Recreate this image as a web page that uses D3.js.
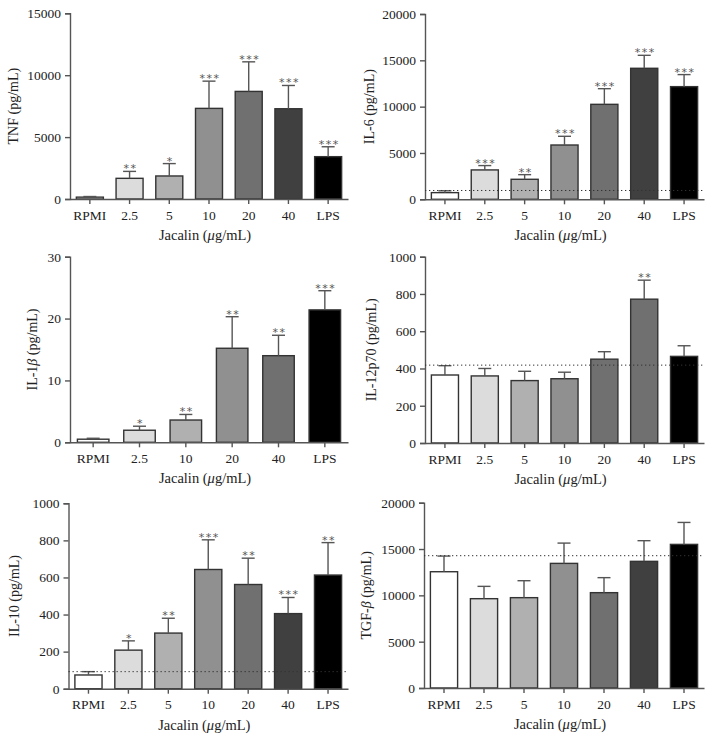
<!DOCTYPE html>
<html><head><meta charset="utf-8">
<script src="https://cdn.jsdelivr.net/npm/d3@7"></script>
<style>body{margin:0;background:#fff}svg{display:block}</style>
</head><body>
<svg id="c" width="714" height="739"></svg>
<script>
// ---- data ----
const catsA = ["RPMI","2.5","5","10","20","40","LPS"];
const catsB = ["RPMI","2.5","10","20","40","LPS"];

const tnfVals = [150, 1670, 1860, 7320, 8690, 7290, 3420];
const tnfErr  = [50, 560, 1000, 2200, 2390, 1880, 800];
const tnfSig  = ["", "**", "*", "***", "***", "***", "***"];
const tnfTicks = [0, 5000, 10000, 15000];

const il6Vals = [720, 3170, 2160, 5860, 10250, 14140, 12160];
const il6Err  = [200, 470, 500, 940, 1690, 1400, 1300];
const il6Sig  = ["", "***", "**", "***", "***", "***", "***"];
const il6Ticks = [0, 5000, 10000, 15000, 20000];
const il6Ref = 950;

const il1Vals = [0.5, 1.95, 3.6, 15.2, 14.0, 21.4];
const il1Err  = [0.15, 0.65, 0.9, 5.1, 3.3, 3.1];
const il1Sig  = ["", "*", "**", "**", "**", "***"];
const il1Ticks = [0, 10, 20, 30];

const il12Vals = [365, 360, 335, 345, 450, 772, 465];
const il12Err  = [50, 40, 50, 35, 40, 102, 57];
const il12Sig  = ["", "", "", "", "", "**", ""];
const il12Ticks = [0, 200, 400, 600, 800, 1000];
const il12Ref = 418;

const il10Vals = [74, 208, 300, 643, 562, 405, 613];
const il10Err  = [18, 50, 80, 160, 142, 87, 175];
const il10Sig  = ["", "*", "**", "***", "**", "***", "**"];
const il10Ticks = [0, 200, 400, 600, 800, 1000];
const il10Ref = 92;

const tgfVals = [12550, 9640, 9750, 13450, 10290, 13670, 15500];
const tgfErr  = [1690, 1330, 1830, 2190, 1620, 2230, 2370];
const tgfSig  = ["", "", "", "", "", "", ""];
const tgfTicks = [0, 5000, 10000, 15000, 20000];
const tgfRef = 14280;

// ---- styles ----
const shadesA = ["#ffffff","#dcdcdc","#b0b0b0","#909090","#707070","#404040","#000000"];
const shadesB = ["#ffffff","#dcdcdc","#b0b0b0","#909090","#707070","#000000"];
const shadesC = ["#ffffff","#dcdcdc","#b0b0b0","#909090","#707070","#707070","#000000"];

const FONT = "'Liberation Serif','Times New Roman',serif";
const svg = d3.select("#c");

function panel(o){
  const g = svg.append("g");
  const x = d3.scaleBand().domain(o.cats).range([o.x0, o.x1]).paddingInner(0.32).paddingOuter(0.16);
  const y = d3.scaleLinear().domain([0, o.max]).range([o.y0, o.yTop]);
  const data = o.cats.map((c,i)=>({c, v:o.vals[i], e:o.err[i], s:o.sig[i], col:o.shades[i]}));

  // y axis
  const ya = g.append("g").attr("transform",`translate(${o.x0},0)`)
    .call(d3.axisLeft(y).tickValues(o.ticks).tickSize(5).tickPadding(4).tickFormat(d3.format("d")));
  ya.select(".domain").attr("stroke","#555").attr("stroke-width",1.4);
  ya.selectAll(".tick line").attr("stroke","#555").attr("stroke-width",1.4);
  ya.selectAll(".tick text").attr("font-family",FONT).attr("font-size",13.5).attr("fill","#222");

  // bars
  g.selectAll("rect.bar").data(data).join("rect")
    .attr("x", d=>x(d.c)).attr("width", x.bandwidth())
    .attr("y", d=>y(d.v)).attr("height", d=>o.y0 - y(d.v))
    .attr("fill", d=>d.col).attr("stroke","#333").attr("stroke-width",1.4);

  // error bars
  const capW = 13;
  g.selectAll("line.eb").data(data).join("line")
    .attr("x1", d=>x(d.c)+x.bandwidth()/2).attr("x2", d=>x(d.c)+x.bandwidth()/2)
    .attr("y1", d=>y(d.v)).attr("y2", d=>y(d.v+d.e))
    .attr("stroke","#555").attr("stroke-width",1.4);
  g.selectAll("line.cap").data(data).join("line")
    .attr("x1", d=>x(d.c)+x.bandwidth()/2-capW/2).attr("x2", d=>x(d.c)+x.bandwidth()/2+capW/2)
    .attr("y1", d=>y(d.v+d.e)).attr("y2", d=>y(d.v+d.e))
    .attr("stroke","#555").attr("stroke-width",1.4);

  // significance stars
  g.selectAll("text.sig").data(data.filter(d=>d.s)).join("text")
    .attr("x", d=>x(d.c)+x.bandwidth()/2+1).attr("y", d=>y(d.v+d.e)+1)
    .attr("text-anchor","middle").attr("font-family","'DejaVu Sans',sans-serif")
    .attr("font-size",11).attr("letter-spacing","1.5px").attr("fill","#555")
    .text(d=>d.s);

  // reference dotted line
  if (o.ref !== undefined){
    g.append("line").attr("x1",o.x0).attr("x2",o.x1).attr("y1",y(o.ref)).attr("y2",y(o.ref))
      .attr("stroke","#333").attr("stroke-width",1).attr("stroke-dasharray","1.3,2.7");
  }

  // x axis
  const xa = g.append("g").attr("transform",`translate(0,${o.y0})`)
    .call(d3.axisBottom(x).tickSize(5).tickPadding(6).tickSizeOuter(0));
  xa.select(".domain").attr("stroke","#555").attr("stroke-width",1.4);
  xa.selectAll(".tick line").attr("stroke","#555").attr("stroke-width",1.4);
  xa.selectAll(".tick text").attr("font-family",FONT).attr("font-size",13.5).attr("fill","#222");

  // x title
  const xt = g.append("text").attr("x",(o.x0+o.x1)/2 - 4).attr("y",o.y0+41)
    .attr("text-anchor","middle").attr("font-family",FONT).attr("font-size",14.5).attr("fill","#222");
  xt.append("tspan").text("Jacalin (");
  xt.append("tspan").attr("font-style","italic").text("μ");
  xt.append("tspan").text("g/mL)");

  // y title
  const yt = g.append("text")
    .attr("transform",`translate(${o.lx},${(o.y0+o.yTop)/2}) rotate(-90)`)
    .attr("text-anchor","middle").attr("font-family",FONT).attr("font-size",14).attr("fill","#222");
  o.ylab.forEach(p=>{
    const t = yt.append("tspan").text(p.t);
    if (p.i) t.attr("font-style","italic");
  });
}

panel({cats:catsA, vals:tnfVals, err:tnfErr, sig:tnfSig, ticks:tnfTicks, max:15000, shades:shadesA,
  x0:70, x1:348, y0:199, yTop:13.3, lx:18, ylab:[{t:"TNF (pg/mL)"}]});
panel({cats:catsA, vals:il6Vals, err:il6Err, sig:il6Sig, ticks:il6Ticks, max:20000, shades:shadesA, ref:il6Ref,
  x0:425, x1:704, y0:199.3, yTop:14, lx:374, ylab:[{t:"IL-6 (pg/mL)"}]});
panel({cats:catsB, vals:il1Vals, err:il1Err, sig:il1Sig, ticks:il1Ticks, max:30, shades:shadesB,
  x0:70, x1:348, y0:442.3, yTop:256.7, lx:37, ylab:[{t:"IL-1"},{t:"β",i:true},{t:" (pg/mL)"}]});
panel({cats:catsA, vals:il12Vals, err:il12Err, sig:il12Sig, ticks:il12Ticks, max:1000, shades:shadesC, ref:il12Ref,
  x0:425, x1:704, y0:443, yTop:256.7, lx:376, ylab:[{t:"IL-12p70 (pg/mL)"}]});
panel({cats:catsA, vals:il10Vals, err:il10Err, sig:il10Sig, ticks:il10Ticks, max:1000, shades:shadesA, ref:il10Ref,
  x0:68.5, x1:348, y0:688.7, yTop:503.3, lx:19, ylab:[{t:"IL-10 (pg/mL)"}]});
panel({cats:catsA, vals:tgfVals, err:tgfErr, sig:tgfSig, ticks:tgfTicks, max:20000, shades:shadesA, ref:tgfRef,
  x0:424, x1:704, y0:688, yTop:502.7, lx:371, ylab:[{t:"TGF-"},{t:"β",i:true},{t:" (pg/mL)"}]});
</script>
</body></html>
